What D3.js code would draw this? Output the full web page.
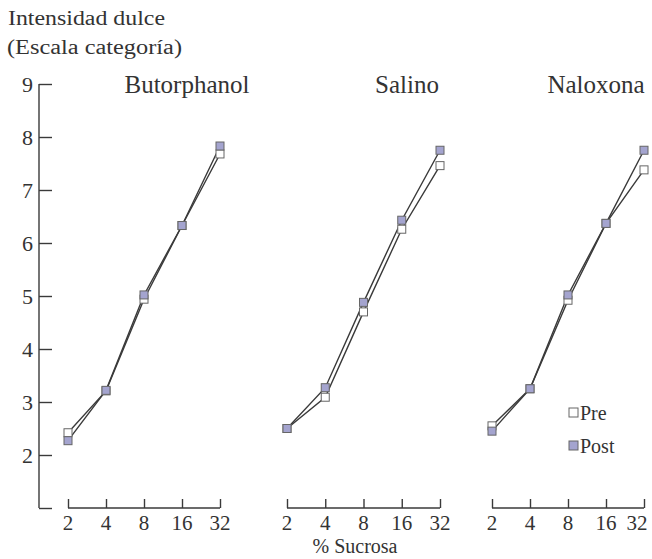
<!DOCTYPE html>
<html><head><meta charset="utf-8">
<script src="https://cdn.jsdelivr.net/npm/d3@7"></script>
<style>body{margin:0;background:#fff}svg{display:block}svg text{font-family:"Liberation Serif","Times New Roman",serif;fill:#333}</style>
</head><body>
<svg id="c" width="652" height="559" font-family="Liberation Serif, serif"></svg>
<script>
const conc = [2, 4, 8, 16, 32];
const panels = ["Butorphanol", "Salino", "Naloxona"];
const yTicks = [2, 3, 4, 5, 6, 7, 8, 9];
const butPre  = [2.42, 3.21, 4.94, 6.33, 7.68];
const butPost = [2.27, 3.22, 5.02, 6.33, 7.83];
const salPre  = [2.50, 3.09, 4.70, 6.26, 7.46];
const salPost = [2.50, 3.27, 4.88, 6.43, 7.75];
const nalPre  = [2.55, 3.25, 4.92, 6.37, 7.38];
const nalPost = [2.45, 3.25, 5.02, 6.37, 7.75];
const seriesPre = [butPre, salPre, nalPre];
const seriesPost = [butPost, salPost, nalPost];
const legendLabels = ["Pre", "Post"];

const svg = d3.select("#c");
const ink = "#3a3a3a";
const postFill = "#a4a4cf";

const y = d3.scaleLinear().domain([1, 9]).range([508, 84]);

// y axis
const yAxis = svg.append("g").attr("transform", "translate(39,0)")
  .call(d3.axisRight(y).tickValues([1, ...yTicks]).tickSize(13).tickFormat(""));
yAxis.select(".domain").attr("stroke", ink).attr("stroke-width", 1.4).attr("d", `M0,${y(9)}V${y(1)}`);
yAxis.selectAll(".tick line").attr("stroke", ink).attr("stroke-width", 1.4);
svg.append("g").selectAll("text").data(yTicks).join("text")
  .attr("x", 33).attr("y", d => y(d)).attr("dy", "0.35em")
  .attr("text-anchor", "end").attr("font-size", 22).text(d => d);

// y title
svg.append("text").attr("x", 8).attr("y", 25).attr("font-size", 20).attr("textLength", 157).attr("lengthAdjust", "spacingAndGlyphs").text("Intensidad dulce");
svg.append("text").attr("x", 7).attr("y", 54).attr("font-size", 20).attr("textLength", 175).attr("lengthAdjust", "spacingAndGlyphs").text("(Escala categoría)");

const ranges = [[68, 220], [287, 440], [492, 644]];
const titleX = [187, 407, 596];

panels.forEach((name, i) => {
  const x = d3.scaleLog().base(2).domain([2, 32]).range(ranges[i]);
  const g = svg.append("g");
  const ax = g.append("g").attr("transform", "translate(0,508)")
    .call(d3.axisTop(x).tickValues(conc).tickSize(9).tickFormat(""));
  ax.select(".domain").attr("stroke", ink).attr("stroke-width", 1.4).attr("d", `M${ranges[i][0]},0H${ranges[i][1]}`);
  ax.selectAll(".tick line").attr("stroke", ink).attr("stroke-width", 1.4);
  g.append("g").selectAll("text").data(conc).join("text")
    .attr("x", d => Math.min(x(d), 637)).attr("y", 530).attr("text-anchor", "middle")
    .attr("font-size", 21).text(d => d);

  g.append("text").attr("x", titleX[i]).attr("y", 93).attr("text-anchor", "middle")
    .attr("font-size", 25).text(name);

  const line = d3.line().x((d, k) => x(conc[k])).y(d => y(d));
  [seriesPre[i], seriesPost[i]].forEach(s => {
    g.append("path").datum(s).attr("d", line).attr("fill", "none")
      .attr("stroke", ink).attr("stroke-width", 1.4);
  });
  [[seriesPre[i], "#fff"], [seriesPost[i], postFill]].forEach(([s, f]) => {
    g.append("g").selectAll("rect").data(s).join("rect")
      .attr("x", (d, k) => x(conc[k]) - 4).attr("y", d => y(d) - 4)
      .attr("width", 8).attr("height", 8)
      .attr("fill", f).attr("stroke", "#666").attr("stroke-width", 1);
  });
});

// legend
const leg = svg.append("g");
const legY = [413, 446];
const legFill = ["#fff", postFill];
legendLabels.forEach((t, i) => {
  leg.append("rect").attr("x", 569).attr("y", legY[i] - 5).attr("width", 9).attr("height", 9)
    .attr("fill", legFill[i]).attr("stroke", "#666").attr("stroke-width", 1);
  leg.append("text").attr("x", 580).attr("y", legY[i]).attr("dy", "0.35em")
    .attr("font-size", 20).text(t);
});

// x title
svg.append("text").attr("x", 355).attr("y", 553).attr("text-anchor", "middle")
  .attr("font-size", 20).text("% Sucrosa");
</script>
</body></html>
